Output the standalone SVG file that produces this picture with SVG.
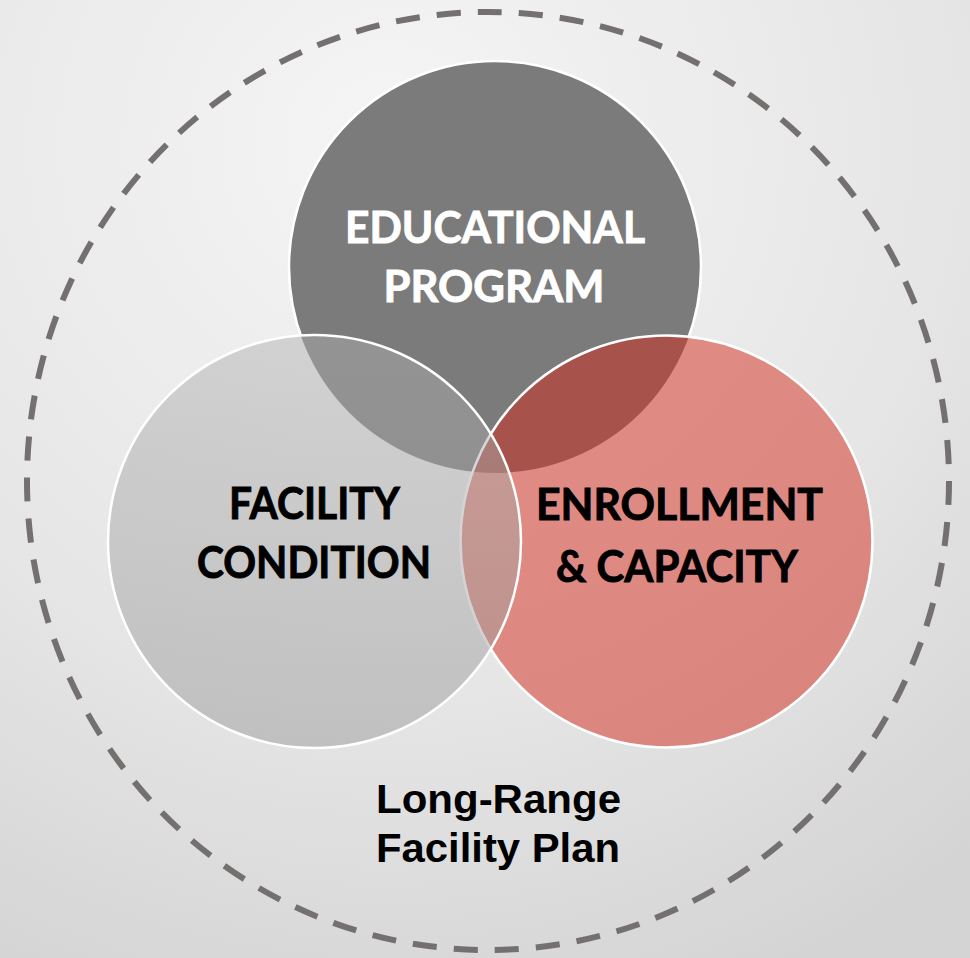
<svg xmlns="http://www.w3.org/2000/svg" width="970" height="958" viewBox="0 0 970 958">
  <defs>
    <radialGradient id="bg" cx="0.4" cy="0.15" r="0.95">
      <stop offset="0" stop-color="#f5f5f5"/>
      <stop offset="0.6" stop-color="#e6e6e6"/>
      <stop offset="1" stop-color="#d4d4d4"/>
    </radialGradient>
    <linearGradient id="leftFill" x1="0" y1="0" x2="0" y2="1">
      <stop offset="0" stop-color="#b0b0b0"/>
      <stop offset="1" stop-color="#989898"/>
    </linearGradient>
    <mask id="topStrokeMask" maskUnits="userSpaceOnUse" x="0" y="0" width="970" height="958">
      <rect width="970" height="958" fill="#fff"/>
      <circle cx="314.5" cy="541.5" r="206.5" fill="#000"/>
      <circle cx="666.5" cy="541.5" r="206" fill="#000"/>
    </mask>
  </defs>
  <style>
    .lbl { font-family: Lato, "Open Sans", "Liberation Sans", sans-serif; font-weight: 700; font-size: 43px; text-anchor: middle; stroke-width: 0.9; }
    .white { fill: #ffffff; stroke: #ffffff; }
    .black { fill: #000000; stroke: #000000; }
    .foot { font-family: "Liberation Sans", Arial, sans-serif; font-weight: 700; font-size: 41px; text-anchor: middle; fill: #000; }
    .ring { fill: none; stroke: #ffffff; stroke-width: 2.5; }
  </style>

  <rect width="970" height="958" fill="url(#bg)"/>

  <g id="boundary">
    <ellipse cx="488" cy="481" rx="461" ry="469" fill="none" stroke="#757070" stroke-width="6" pathLength="2911" stroke-dasharray="24 17"/>
  </g>

  <g id="educational-program">
    <circle cx="495" cy="267" r="206" fill="#7b7b7b"/>
    <circle cx="495" cy="267" r="206" class="ring" mask="url(#topStrokeMask)"/>
  </g>

  <g id="enrollment-capacity">
    <circle cx="666.5" cy="541.5" r="206" fill="#d42c1c" fill-opacity="0.5"/>
    <circle cx="666.5" cy="541.5" r="206" class="ring"/>
  </g>

  <g id="facility-condition">
    <circle cx="314.5" cy="541.5" r="206.5" fill="url(#leftFill)" fill-opacity="0.47"/>
    <circle cx="314.5" cy="541.5" r="206.5" class="ring"/>
  </g>

  <g id="labels">
    <text class="lbl white" x="495" y="243" textLength="300" lengthAdjust="spacingAndGlyphs">EDUCATIONAL</text>
    <text class="lbl white" x="494" y="302" textLength="221" lengthAdjust="spacingAndGlyphs">PROGRAM</text>
    <text class="lbl black" x="314.5" y="519" textLength="171" lengthAdjust="spacingAndGlyphs">FACILITY</text>
    <text class="lbl black" x="314" y="578" textLength="234" lengthAdjust="spacingAndGlyphs">CONDITION</text>
    <text class="lbl black" x="679.5" y="520" textLength="287" lengthAdjust="spacingAndGlyphs">ENROLLMENT</text>
    <text class="lbl black" x="677" y="582" textLength="242" lengthAdjust="spacingAndGlyphs">&amp; CAPACITY</text>
  </g>

  <g id="plan-label">
    <text class="foot" x="498.5" y="813" textLength="245" lengthAdjust="spacingAndGlyphs">Long-Range</text>
    <text class="foot" x="498" y="862" textLength="244" lengthAdjust="spacingAndGlyphs">Facility Plan</text>
  </g>
</svg>
